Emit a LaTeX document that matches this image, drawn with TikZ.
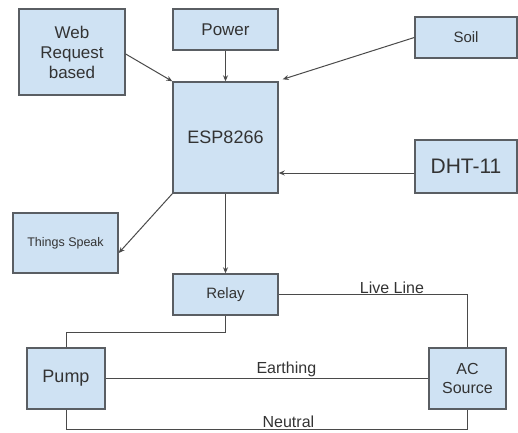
\documentclass[tikz,border=0pt]{standalone}
\usepackage{fontspec}
\setmainfont{Liberation Sans}
\usepackage{tikz}
\usepackage{xcolor}
\usetikzlibrary{arrows.meta}

\definecolor{boxfill}{HTML}{CFE2F3}
\definecolor{boxline}{HTML}{5A5E63}
\definecolor{wire}{HTML}{4A4A4A}

\tikzset{
  blockbox/.style={draw=boxline, line width=1.4pt, fill=boxfill, align=center, inner sep=0pt, font=\fontsize{17}{20}\selectfont, text=black!80},
  arr/.style={draw=wire, line width=1pt, -{Stealth[length=6pt,width=5pt]}},
  wireline/.style={draw=wire, line width=1pt},
  wirelabel/.style={inner sep=0.75pt, font=\fontsize{16}{19}\selectfont, text=black!80}
}

\begin{document}
\begin{tikzpicture}[x=1pt,y=1pt,yscale=-1,xscale=1]
    \useasboundingbox (0,0) rectangle (518,432);

    % Blocks
    \node[blockbox, minimum width=106pt, minimum height=86pt] (web) at (72,52) {Web\\Request\\based};
    \node[blockbox, minimum width=105pt, minimum height=41pt] (power) at (225.5,29.5) {Power};
    \node[blockbox, minimum width=105pt, minimum height=111pt, font=\fontsize{18}{21}\selectfont] (esp) at (225.5,137.5) {ESP8266};
    \node[blockbox, minimum width=102pt, minimum height=41pt, font=\fontsize{15}{18}\selectfont] (soil) at (466,37.5) {Soil};
    \node[blockbox, minimum width=102pt, minimum height=53pt, font=\fontsize{21}{24}\selectfont] (dht) at (466,166.5) {DHT-11};
    \node[blockbox, minimum width=105pt, minimum height=60pt, font=\fontsize{12.5}{15}\selectfont] (things) at (65.5,243) {Things Speak};
    \node[blockbox, minimum width=105pt, minimum height=41pt, font=\fontsize{15}{18}\selectfont] (relay) at (225.5,294.5) {Relay};
    \node[blockbox, minimum width=78pt, minimum height=61pt, font=\fontsize{18}{21}\selectfont] (pump) at (66,378.5) {Pump};
    \node[blockbox, minimum width=77pt, minimum height=61pt, font=\fontsize{16}{19}\selectfont] (ac) at (467.5,378.5) {AC\\Source};

    % Inputs to the controller
    \draw[arr] ([yshift=2pt]web.east) -- (esp.north west);
    \draw[arr] (power.south) -- (esp.north);
    \draw[arr] (soil.west) -- ([xshift=4pt,yshift=-2pt]esp.north east);
    \draw[arr] ([yshift=6.5pt]dht.west) -- ([yshift=6.5pt]dht.west -| esp.east);

    % Outputs
    \draw[arr] (esp.south west) -- ([yshift=10pt]things.east);
    \draw[arr] (esp.south) -- (relay.north);

    % Mains wiring
    \draw[wireline] (relay.south) -- ++(0,17) -| (pump.north);
    \draw[wireline] (relay.east) -| node[wirelabel, pos=0.3, above] {Live Line} (ac.north);
    \draw[wireline] (pump.east) -- node[wirelabel, pos=0.56, above] {Earthing} (ac.west);
    \draw[wireline] (pump.south) -- ++(0,19.5) -| node[wirelabel, pos=0.277, above] {Neutral} (ac.south);

\end{tikzpicture}
\end{document}
